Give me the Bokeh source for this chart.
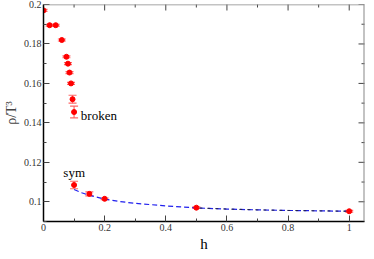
import math
from bokeh.plotting import figure
from bokeh.models import Range1d, LinearAxis, FixedTicker, Whisker, ColumnDataSource, Label, Span, Title
from bokeh.embed import file_html
from bokeh.resources import INLINE

# broken phase data
h_broken = [0.0, 0.02, 0.04, 0.06, 0.075, 0.08, 0.085, 0.09, 0.095, 0.1]
rho_broken = [0.197, 0.1895, 0.1895, 0.182, 0.1735, 0.170, 0.1655, 0.160, 0.152, 0.1455]
err_broken = [0.0005, 0.0005, 0.0005, 0.0005, 0.0005, 0.0005, 0.0005, 0.0005, 0.002, 0.003]

# symmetric phase data
h_sym = [0.1, 0.15, 0.2, 0.5, 1.0]
rho_sym = [0.1085, 0.104, 0.1015, 0.097, 0.0952]
err_sym = [0.0019, 0.001, 0.0004, 0.0004, 0.0004]

# fit curve
h_fit = [0.1, 0.125, 0.15, 0.2, 0.25, 0.3, 0.4, 0.5, 0.6, 0.7, 0.8, 0.9, 1.0]
rho_fit = [0.1062, 0.1046, 0.1033, 0.1013, 0.1001, 0.0992, 0.0979, 0.0969, 0.0963, 0.0959, 0.0956, 0.0954, 0.0952]
h_fit2 = [0.5, 0.6, 0.7, 0.8, 0.9, 1.0]
rho_fit2 = [0.0969, 0.0963, 0.0959, 0.0956, 0.0954, 0.0952]

x_ticks = [0, 0.2, 0.4, 0.6, 0.8, 1.0]
x_minor = [0.1, 0.3, 0.5, 0.7, 0.9]
x_labels = ["0", "0.2", "0.4", "0.6", "0.8", "1"]
y_ticks = [0.1, 0.12, 0.14, 0.16, 0.18, 0.2]
y_minor = [0.09, 0.11, 0.13, 0.15, 0.17, 0.19]
y_labels = ["0.1", "0.12", "0.14", "0.16", "0.18", "0.2"]

X0, X1, Y0, Y1 = 0, 1.05, 0.09, 0.2
SERIF = "Liberation Serif"

p = figure(width=366, height=251, output_backend="svg", toolbar_location=None,
           x_range=Range1d(X0, X1), y_range=Range1d(Y0, Y1),
           x_axis_location=None, y_axis_location=None,
           min_border_left=30, min_border_right=2, min_border_top=4, min_border_bottom=0)
p.grid.visible = False
p.outline_line_color = None
p.background_fill_color = "white"
p.border_fill_color = "white"

def style(ax, ticks, minor, labels):
    ax.ticker = FixedTicker(ticks=ticks, minor_ticks=minor)
    ax.major_tick_in = 6
    ax.major_tick_out = 0
    ax.minor_tick_in = 3
    ax.minor_tick_out = 0
    ax.axis_line_color = "black"
    ax.axis_line_width = 1.5
    ax.major_tick_line_color = "#444444"
    ax.minor_tick_line_color = "#444444"
    ax.major_label_text_font = SERIF
    ax.major_label_text_font_size = "10px"
    ax.major_label_text_color = "#333333"
    ax.major_label_standoff = 2
    ax.major_label_overrides = {t: l for t, l in zip(ticks, labels)}
    ax.axis_label_text_font = SERIF
    ax.axis_label_text_font_style = "normal"
    ax.axis_label_text_font_size = "14px"

bx = LinearAxis()
style(bx, x_ticks, x_minor, x_labels)
p.add_layout(bx, "below")

# x axis title under the tick labels
p.add_layout(Title(text="h", align="center", text_font=SERIF, text_font_size="15px",
                   text_font_style="normal", text_color="black", standoff=0, offset=0),
             "below")

ly = LinearAxis(axis_label="ρ/T³")
style(ly, y_ticks, y_minor, y_labels)
ly.axis_label_standoff = 2
p.add_layout(ly, "left")

# top and right frame edges with inward ticks
p.add_layout(Span(location=Y1, dimension="width", line_color="#888888", line_width=1.5))
p.add_layout(Span(location=X1, dimension="height", line_color="#888888", line_width=2))
p.scatter(x_ticks, [Y1] * len(x_ticks), marker="dash", angle=math.pi / 2, size=12,
          line_color="#444444", line_width=1)
p.scatter(x_minor, [Y1] * len(x_minor), marker="dash", angle=math.pi / 2, size=6,
          line_color="#444444", line_width=1)
p.scatter([X1] * len(y_ticks), y_ticks, marker="dash", size=12,
          line_color="#444444", line_width=1)
p.scatter([X1] * len(y_minor), y_minor, marker="dash", size=6,
          line_color="#444444", line_width=1)

# fit curve
p.line(h_fit, rho_fit, line_color="#2020ee", line_width=1.2, line_dash="5 3")
p.line(h_fit2, rho_fit2, line_color="#222244", line_width=1.0, line_dash="3 5", line_dash_offset=5)

for hs, rs, es in [(h_broken, rho_broken, err_broken), (h_sym, rho_sym, err_sym)]:
    src = ColumnDataSource(dict(x=hs, y=rs,
                                lo=[r - e for r, e in zip(rs, es)],
                                hi=[r + e for r, e in zip(rs, es)]))
    w = Whisker(source=src, base="x", lower="lo", upper="hi", dimension="height",
                line_color="#ff6666", line_width=1.2)
    w.upper_head.size = 8
    w.lower_head.size = 8
    w.upper_head.line_color = "#ff6666"
    w.lower_head.line_color = "#ff6666"
    w.upper_head.line_width = 1.2
    w.lower_head.line_width = 1.2
    p.add_layout(w)
    p.scatter("x", "y", source=src, size=5, fill_color="red", line_color="red")

p.add_layout(Label(x=0.122, y=0.1436, text="broken", text_font=SERIF,
                   text_font_size="13px", text_baseline="middle", text_color="black"))
p.add_layout(Label(x=0.065, y=0.115, text="sym", text_font=SERIF,
                   text_font_size="13px", text_baseline="middle", text_color="black"))

open("out.html", "w").write(file_html(p, INLINE))
